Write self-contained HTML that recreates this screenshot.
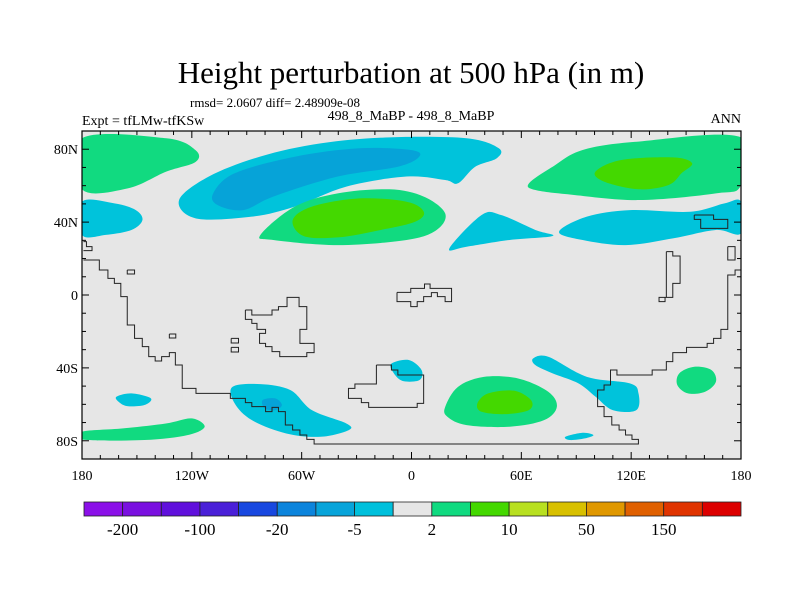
<!DOCTYPE html>
<html><head><meta charset="utf-8"><style>
body{margin:0;background:#fff;}
svg text{font-family:"Liberation Serif",serif;fill:#000;}
</style></head><body>
<svg id="s" width="800" height="600" xmlns="http://www.w3.org/2000/svg">
<rect width="800" height="600" fill="#fff"/>
<text x="411" y="83" font-size="31" text-anchor="middle">Height perturbation at 500 hPa (in m)</text>
<text x="190" y="107" font-size="13">rmsd= 2.0607 diff= 2.48909e-08</text>
<text x="411" y="120" font-size="14" text-anchor="middle">498_8_MaBP - 498_8_MaBP</text>
<text x="82" y="125" font-size="14">Expt = tfLMw-tfKSw</text>
<text x="741" y="123" font-size="14" text-anchor="end">ANN</text>
<g id="map"></g>
<g id="cb"></g>
</svg>
<script>
const NS='http://www.w3.org/2000/svg';
const L=82,R=741,T=131,B=459;
const X=lon=>L+(lon+180)*(R-L)/360;
const Y=lat=>T+(90-lat)*(B-T)/180;
const CY='#00c3db',BL='#06a3d8',GR='#11da80',BG='#44d800';
// contour regions [lon,lat]
const regionLevels=['cyan','blue','green','bright','cyan','cyan','cyan','green','bright','cyan','green','cyan','blue','cyan','green','bright','cyan','green','cyan'];
const regionCoords=[
[[-127,52],[-110.7,65],[-82.5,76],[-49.7,83.2],[-12.1,86.5],[30.1,86],[47.7,80.5],[46.5,75],[34.8,70.4],[25.4,61.3],[18.4,63.1],[-2.7,65],[-35.6,59.5],[-63.8,48.5],[-87.2,43],[-117.7,42]],
[[-108.3,55.8],[-96.6,66.8],[-63.8,75.9],[-28.5,80.5],[-0.4,79.6],[4.3,76],[-7.4,70.4],[-40.3,65],[-75.5,54],[-91.9,46.6],[-106,49.4]],
[[-82.5,33],[-63.8,48.5],[-40.3,55.8],[-12.1,58],[6.7,54],[18.4,44.8],[13.7,35.7],[-2.7,30.2],[-40.3,27.4],[-75.5,30.2]],
[[-64.9,41.1],[-54.4,48.5],[-28.5,53],[-2.7,51.2],[6.7,45.7],[2,40.2],[-16.8,35.7],[-40.3,31.6],[-59,32.4]],
[[-180,51.2],[-162.3,50.3],[-150.6,46.6],[-147,41.1],[-153,35.7],[-167,33],[-180,33]],
[[80.6,34.7],[95.8,43],[119.3,46.6],[152.2,45.7],[171,50.3],[180,51.2],[180,33.8],[166.3,35.7],[142.8,31.1],[117,27.4],[93.5,30.2]],
[[20.7,25.6],[38.3,43.9],[48.9,43.9],[67.7,35.7],[77.1,32.4],[53.6,30.2],[30.1,26.5]],
[[64.2,61.3],[77.1,70.4],[93.5,79.6],[124,84.2],[180,86.5],[180,60.4],[166.3,55.8],[124,52.1],[88.8,54.9],[67.7,57.6]],
[[100.5,67.7],[114.6,74.1],[142.8,75.5],[153.3,72.3],[147.5,66.8],[140.5,60.4],[124,58],[105.2,62.2]],
[[-161.1,-55.8],[-152.9,-54],[-142.4,-56.7],[-145.9,-60.4],[-155.3,-61],[-160,-58.6]],
[[-180,-75],[-157.6,-73.2],[-134.2,-70.5],[-120.1,-67.7],[-113,-72.3],[-122.4,-76.9],[-145.9,-79.6],[-180,-79.3]],
[[-97.8,-50.4],[-82.5,-48.9],[-66.1,-52.2],[-54.4,-63.2],[-35.6,-70.5],[-34.4,-74.2],[-49.7,-77.8],[-68.4,-76],[-87.2,-68.7],[-96.6,-59.5]],
[[-81.3,-57.7],[-74.3,-56.8],[-70.8,-60.4],[-74.3,-63.2],[-80.2,-62.2]],
[[-10.9,-37.6],[-1.5,-35.7],[5.5,-41.2],[4.3,-46.7],[-5,-47.1],[-10.2,-42.1]],
[[18.4,-61.4],[25.4,-50.4],[39.5,-44.9],[58.3,-45.8],[74.7,-53.1],[79.4,-61.4],[72.4,-68.7],[53.6,-72.3],[30.1,-71.4],[19.6,-66.8]],
[[36,-59.5],[41.9,-54],[55.9,-52.5],[65.3,-57.7],[64.1,-63.2],[51.3,-65.4],[38.3,-64.1]],
[[66.5,-34.8],[74.7,-33.9],[95.8,-44.9],[119.3,-48.5],[124,-54],[122.8,-63.2],[109.9,-63.2],[100.5,-55.8],[91.2,-48.5],[77.1,-43],[67.7,-38.5]],
[[146.3,-43],[154.5,-39.4],[163.9,-41.2],[166.3,-47.6],[160.4,-53.1],[151,-54],[145.2,-49.4]],
[[84.1,-77.8],[93.5,-75.6],[99.4,-76.9],[94.7,-78.7],[86.5,-79.6]]
];
const extraGreen=[[-180,86],[-134,86],[-118,79.5],[-118,73],[-134,67.7],[-155,58.5],[-180,58]];
const levelColor={cyan:CY,blue:BL,green:GR,bright:BG};
const cbColors=['#8b10e8','#7a10e0','#6010dc','#4a20d8','#1848e0','#0c84dc','#08a4da','#00c0dc','#e6e6e6','#10da80','#44d800','#b8e020','#d8c000','#e09800','#e06000','#e03400','#dc0000'];
const cbLabels=['-200','-100','-20','-5','2','10','50','150'];
const xTicks=[-180,-120,-60,0,60,120,180];
const xTickLabels=['180','120W','60W','0','60E','120E','180'];
const yTicks=[80,40,0,-40,-80];
const yTickLabels=['80N','40N','0','40S','80S'];

const map=document.getElementById('map');
function el(t,a,p){const e=document.createElementNS(NS,t);for(const k in a)e.setAttribute(k,a[k]);(p||map).appendChild(e);return e;}
const cp=el('clipPath',{id:'mc'});el('rect',{x:L,y:T,width:R-L,height:B-T},cp);
const bg=el('rect',{x:L,y:T,width:R-L,height:B-T,fill:'#e6e6e6'});


const g=el('g',{'clip-path':'url(#mc)'});
function smooth(pts){
  const p=pts.map(q=>[X(q[0]),Y(q[1])]);const n=p.length;let d='M'+p[0][0]+','+p[0][1];
  for(let i=0;i<n;i++){const p0=p[(i-1+n)%n],p1=p[i],p2=p[(i+1)%n],p3=p[(i+2)%n];
    d+=` C${p1[0]+(p2[0]-p0[0])/6},${p1[1]+(p2[1]-p0[1])/6} ${p2[0]-(p3[0]-p1[0])/6},${p2[1]-(p3[1]-p1[1])/6} ${p2[0]},${p2[1]}`;}
  return d+'Z';
}
const eg=el('path',{d:smooth(extraGreen),fill:GR},g);


regionCoords.forEach((c,i)=>{
  const p=el('path',{d:smooth(c),fill:levelColor[regionLevels[i]]},g);
  
  
});
const zx=v=>80+v/2.328, zy=v=>130+v/3;
const coasts=[
[[8,390],[45,390],[45,420],[65,420],[65,445],[80,445],[80,460],[95,460],[95,500],[110,500],[110,585],[127,585],[127,625],[145,625],[145,650],[160,650],[160,680],[175,680],[175,693],[190,693],[190,680],[208,680],[208,668],[222,668],[222,705],[238,705],[238,775],[270,775],[270,790],[350,790],[350,805],[385,805],[385,818],[400,818],[400,830],[432,830],[432,845],[447,845],[447,832],[462,832],[462,845],[478,845],[478,885],[495,885],[495,900],[512,900],[512,915],[528,915],[528,928],[545,928],[545,942],[1300,942],[1300,928],[1285,928],[1285,915],[1270,915],[1270,900],[1255,900],[1255,885],[1238,885],[1238,860],[1220,860],[1220,830],[1205,830],[1205,780],[1220,780],[1220,765],[1235,765],[1235,720],[1250,720],[1250,735],[1332,735],[1332,720],[1365,720],[1365,695],[1380,695],[1380,668],[1412,668],[1412,652],[1460,652],[1460,640],[1475,640],[1475,625],[1492,625],[1492,598],[1508,598],[1508,435],[1525,435],[1525,420],[1540,420],[1540,390],[1548,390]],
[[8,335],[15,335],[15,350],[28,350],[28,362],[8,362]],
[[385,540],[400,540],[400,555],[447,555],[447,540],[462,540],[462,530],[482,530],[482,502],[510,502],[510,530],[528,530],[528,598],[512,598],[512,640],[545,640],[545,668],[528,668],[528,680],[465,680],[465,665],[447,665],[447,650],[432,650],[432,640],[418,640],[418,610],[432,610],[432,598],[412,598],[412,580],[400,580],[400,568],[385,568],[385,540]],
[[690,705],[725,705],[725,720],[740,720],[740,735],[800,735],[800,820],[785,820],[785,832],[672,832],[672,818],[655,818],[655,805],[625,805],[625,775],[640,775],[640,762],[690,762],[690,705]],
[[738,487],[770,487],[770,475],[802,475],[802,462],[815,462],[815,475],[865,475],[865,515],[850,515],[850,500],[832,500],[832,488],[818,488],[818,500],[800,500],[800,515],[785,515],[785,530],[770,530],[770,515],[738,515],[738,487]],
[[1365,365],[1380,365],[1380,378],[1397,378],[1397,460],[1380,460],[1380,502],[1362,502],[1362,515],[1348,515],[1348,502],[1365,502],[1365,365]],
[[1430,255],[1475,255],[1475,268],[1508,268],[1508,295],[1445,295],[1445,268],[1430,268],[1430,255]],
[[110,420],[127,420],[127,432],[110,432],[110,420]],[[208,612],[223,612],[223,624],[208,624],[208,612]],
[[352,625],[369,625],[369,639],[352,639],[352,625]],[[352,652],[369,652],[369,666],[352,666],[352,652]],
[[1508,350],[1525,350],[1525,390],[1508,390],[1508,350]],[[1548,338],[1540,338],[1540,365],[1548,365]]
];
coasts.forEach(c=>{const p=el('polyline',{points:c.map(q=>zx(q[0])+','+zy(q[1])).join(' '),fill:'none',stroke:'#222','stroke-width':1},g);
  
  });
const fr=el('rect',{x:L,y:T,width:R-L,height:B-T,fill:'none',stroke:'#000','stroke-width':1.2});


for(let lon=-180;lon<=180;lon+=10){const len=lon%60===0?7:4;const x=X(lon);
  el('line',{x1:x,y1:T,x2:x,y2:T+len,stroke:'#000'});el('line',{x1:x,y1:B,x2:x,y2:B-len,stroke:'#000'});}
for(let lat=-90;lat<=90;lat+=10){const len=lat%40===0?7:4;const y=Y(lat);
  el('line',{x1:L,y1:y,x2:L+len,y2:y,stroke:'#000'});el('line',{x1:R,y1:y,x2:R-len,y2:y,stroke:'#000'});}
xTicks.forEach((v,i)=>{const t=el('text',{x:X(v),y:B+21,'font-size':14,'text-anchor':'middle'});t.textContent=xTickLabels[i];
  
  });
yTicks.forEach((v,i)=>{const t=el('text',{x:L-4,y:Y(v)+5,'font-size':14,'text-anchor':'end'});t.textContent=yTickLabels[i];
  
  });
const cb=document.getElementById('cb');const cx0=84,cx1=741,cw=(cx1-cx0)/cbColors.length;
cbColors.forEach((c,i)=>{const r=el('rect',{x:cx0+i*cw,y:502,width:cw,height:14,fill:c,stroke:'#222','stroke-width':0.8},cb);
  
  });
cbLabels.forEach((s,i)=>{const t=el('text',{x:cx0+(2*i+1)*cw,y:535,'font-size':17,'text-anchor':'middle'},cb);t.textContent=s;
  
  });
</script>
</body></html>
